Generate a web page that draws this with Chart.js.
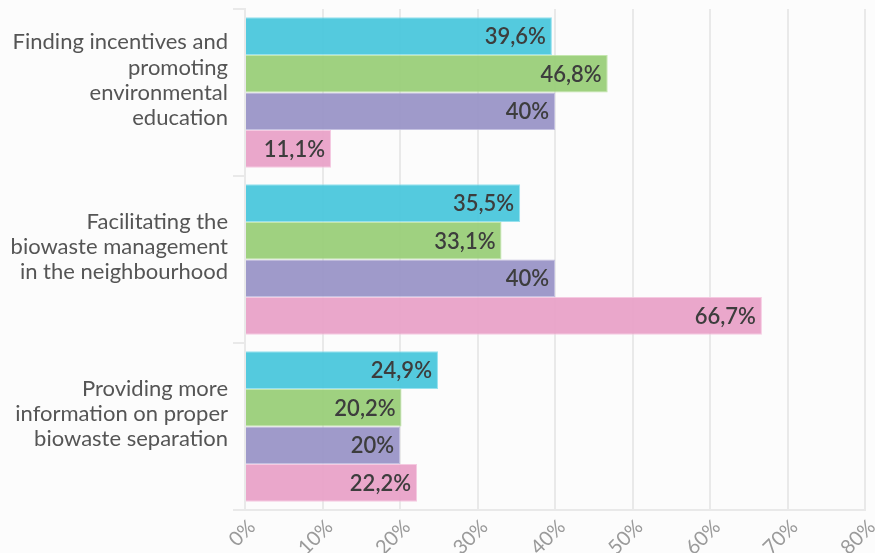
<!DOCTYPE html>
<html>
<head>
<meta charset="utf-8">
<script src="https://cdn.jsdelivr.net/npm/chart.js@4.4.1/dist/chart.umd.min.js"></script>
<style>
  html, body { margin: 0; padding: 0; background: #fcfcfc; }
  #wrap { width: 875px; height: 553px; }
</style>
</head>
<body>
<div id="wrap"><canvas id="c" width="875" height="553"></canvas></div>
<script>
const categories = [
  ["Finding incentives and", "promoting", "environmental", "education", ""],
  ["Facilitating the", "biowaste management", "in the neighbourhood", ""],
  ["Providing more", "information on proper", "biowaste separation", ""]
];
const series1 = [39.6, 35.5, 24.9];
const series2 = [46.8, 33.1, 20.2];
const series3 = [40, 40, 20];
const series4 = [11.1, 66.7, 22.2];
const xTicks = [0, 10, 20, 30, 40, 50, 60, 70, 80];

const fills = ['rgba(71,198,220,0.93)', 'rgba(152,206,118,0.93)', 'rgba(152,146,198,0.93)', 'rgba(232,160,199,0.93)'];
const borders = ['rgba(140,222,236,0.9)', 'rgba(190,228,165,0.9)', 'rgba(190,186,222,0.9)', 'rgba(244,196,222,0.9)'];

const fmt = v => String(v).replace('.', ',') + '%';

const labelPlugin = {
  id: 'barLabels',
  afterDatasetsDraw(chart) {
    const ctx = chart.ctx;
    ctx.save();
    ctx.font = '600 22px Lato';
    ctx.fillStyle = '#3d3d3d';
    ctx.textAlign = 'right';
    ctx.textBaseline = 'middle';
    chart.data.datasets.forEach((ds, i) => {
      const meta = chart.getDatasetMeta(i);
      meta.data.forEach((el, j) => {
        ctx.fillText(fmt(ds.data[j]), el.x - 6, el.y + 1);
      });
    });
    ctx.restore();
  }
};

const names = ['Series 1', 'Series 2', 'Series 3', 'Series 4'];
const allSeries = [series1, series2, series3, series4];

new Chart(document.getElementById('c'), {
  type: 'bar',
  data: {
    labels: categories,
    datasets: allSeries.map((d, i) => ({
      label: names[i],
      data: d,
      backgroundColor: fills[i],
      borderColor: borders[i],
      borderWidth: 1,
      categoryPercentage: 0.9,
      barPercentage: 1.0
    }))
  },
  options: {
    indexAxis: 'y',
    responsive: false,
    animation: false,
    layout: { padding: { top: 9, right: 10, left: 0, bottom: 0 } },
    plugins: { legend: { display: false }, tooltip: { enabled: false } },
    scales: {
      x: {
        min: 0, max: 80,
        afterBuildTicks(scale) { scale.ticks = xTicks.map(v => ({ value: v })); },
        afterFit(scale) { scale.height = 43; scale.paddingRight = 0; scale.paddingLeft = 0; },
        grid: { color: '#e9e9e9', lineWidth: 2, drawTicks: false },
        border: { color: '#e9e9e9', width: 2 },
        ticks: {
          color: '#9a9a9a',
          font: { family: 'Lato', size: 20 },
          minRotation: 45, maxRotation: 45,
          padding: 5,
          labelOffset: 7,
          callback: v => v + '%'
        }
      },
      y: {
        afterFit(scale) { scale.width = 245; scale.paddingTop = 0; scale.paddingBottom = 0; },
        grid: { drawOnChartArea: false, color: '#e9e9e9', lineWidth: 2, tickLength: 12 },
        border: { color: '#e9e9e9', width: 2 },
        ticks: {
          color: '#555555',
          font: { family: 'Lato', size: 22, lineHeight: 1.14 },
          padding: 5
        }
      }
    }
  },
  plugins: [labelPlugin]
});
</script>
</body>
</html>
